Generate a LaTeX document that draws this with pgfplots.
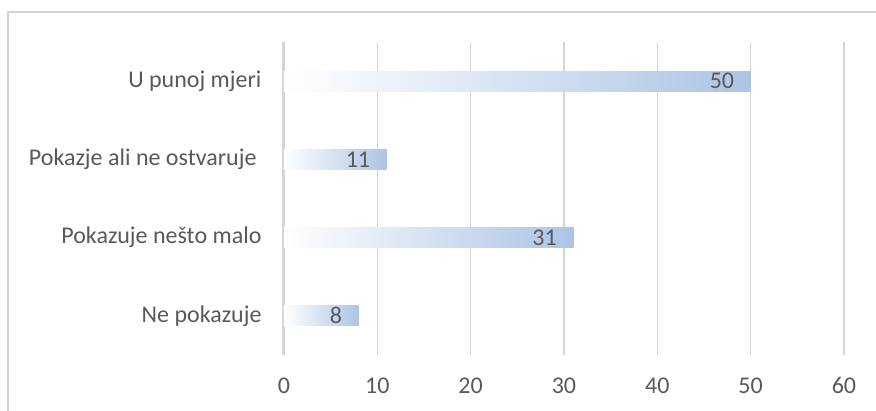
\documentclass[border=0pt]{standalone}
\usepackage{pgfplots}
\pgfplotsset{compat=1.18}
\usepackage{fontspec}
\setmainfont{Carlito}
\definecolor{txt}{HTML}{595959}
\definecolor{gridc}{HTML}{D4D4D4}
\definecolor{barc}{HTML}{ACC4E4}
\begin{document}
\begin{tikzpicture}
\path[use as bounding box] (-284pt,-55pt) rectangle (592pt,355pt);
\draw[gridc, line width=1.5pt] (-276pt,-70pt) -- (-276pt,343pt) -- (620pt,343pt);
\begin{axis}[
  at={(0,0)}, anchor=south west,
  scale only axis, width=560pt, height=313pt,
  xbar, bar width=20pt, bar shift=0pt,
  xmin=0, xmax=60, ymin=-0.5, ymax=3.5,
  xtick={0,10,...,60}, ytick={0,1,2,3},
  yticklabels={Ne pokazuje, Pokazuje nešto malo, Pokazje ali ne ostvaruje\hspace*{5pt}, U punoj mjeri},
  axis lines=left, axis line style={-},
  major tick length=0pt,
  xmajorgrids, grid style={gridc, line width=1.5pt},
  x axis line style={draw=none},
  y axis line style={gridc, line width=3pt},
  tick label style={font=\fontsize{24}{28}\selectfont, text=txt},
  /pgf/number format/assume math mode=true,
  xticklabel style={yshift=-19pt},
  yticklabel style={xshift=-19pt},
  nodes near coords,
  every node near coord/.append style={anchor=east, xshift=-13pt, font=\fontsize{24}{28}\selectfont, text=txt},
]
\addplot[draw=none, left color=white, right color=barc] coordinates {(8,0)};
\addplot[draw=none, left color=white, right color=barc] coordinates {(31,1)};
\addplot[draw=none, left color=white, right color=barc] coordinates {(11,2)};
\addplot[draw=none, left color=white, right color=barc] coordinates {(50,3)};
\end{axis}
\end{tikzpicture}
\end{document}
